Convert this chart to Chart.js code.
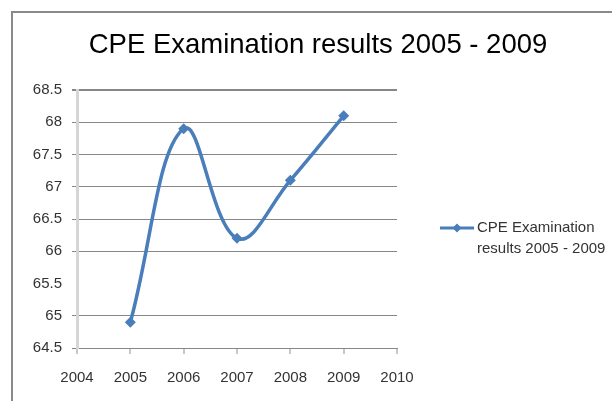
<!DOCTYPE html>
<html>
<head>
<meta charset="utf-8">
<script src="https://cdn.jsdelivr.net/npm/chart.js@4/dist/chart.umd.min.js"></script>
<style>
  html, body { margin: 0; padding: 0; background: #fff; overflow: hidden; width: 612px; height: 401px; }
  .wrap { position: relative; width: 612px; height: 401px; }
  .frame { position: absolute; left: 11px; top: 11px; width: 700px; height: 500px;
           border-top: 2px solid #8a8a8a; border-left: 2px solid #8a8a8a; }
  canvas { display: block; position: absolute; left: 0; top: 0; }
</style>
</head>
<body>
<div class="wrap">
  <canvas id="resultsChart" width="612" height="401"></canvas>
  <div class="frame"></div>
</div>
<script>
const years = [2005, 2006, 2007, 2008, 2009];
const results = [64.9, 67.9, 66.2, 67.1, 68.1];
const seriesName = 'CPE Examination results 2005 - 2009';
const legendLines = ['CPE Examination', 'results 2005 - 2009'];
const chartTitle = 'CPE Examination results 2005 - 2009';

const blue = '#4a7ebb';

// title and the two-line legend are drawn by hand
const extras = {
    id: 'extras',
    afterDraw(chart) {
        const ctx = chart.ctx;
        ctx.save();
        ctx.fillStyle = '#000';
        ctx.font = '27.5px "Liberation Sans", Arial, sans-serif';
        ctx.textAlign = 'center';
        ctx.textBaseline = 'middle';
        ctx.fillText(chartTitle, 318, 45);

        // legend
        const ly = 228;
        ctx.strokeStyle = blue;
        ctx.lineWidth = 3;
        ctx.beginPath();
        ctx.moveTo(440, ly);
        ctx.lineTo(474, ly);
        ctx.stroke();
        ctx.fillStyle = blue;
        ctx.beginPath();
        ctx.moveTo(457, ly - 4.5);
        ctx.lineTo(461.5, ly);
        ctx.lineTo(457, ly + 4.5);
        ctx.lineTo(452.5, ly);
        ctx.closePath();
        ctx.fill();

        ctx.fillStyle = '#333';
        ctx.font = '15px "Liberation Sans", Arial, sans-serif';
        ctx.textAlign = 'left';
        legendLines.forEach((t, i) => ctx.fillText(t, 477, ly + i * 21));
        ctx.restore();
    }
};

const ctx = document.getElementById('resultsChart').getContext('2d');

const chart = new Chart(ctx, {
    type: 'line',
    data: {
        datasets: [{
            label: seriesName,
            data: years.map((y, i) => ({ x: y, y: results[i] })),
            borderColor: blue,
            backgroundColor: blue,
            borderWidth: 3.5,
            tension: 0.4,
            pointStyle: 'rectRot',
            pointRadius: 5.5,
            pointBorderWidth: 0,
            fill: false
        }]
    },
    options: {
        responsive: false,
        animation: false,
        events: [],
        layout: { padding: { top: 90, right: 215, bottom: 0, left: 0 } },
        plugins: {
            legend: { display: false },
            title: { display: false },
            tooltip: { enabled: false }
        },
        scales: {
            x: {
                type: 'linear',
                min: 2004,
                max: 2010,
                ticks: {
                    stepSize: 1,
                    color: '#333',
                    font: { family: '"Liberation Sans", Arial', size: 15 },
                    padding: 15,
                    callback: v => String(v)
                },
                grid: {
                    drawOnChartArea: false,
                    color: '#c8c8c8',
                    lineWidth: 2,
                    tickLength: 6
                },
                border: { color: '#878787', width: 1 },
                afterFit: s => { s.height = 53; }
            },
            y: {
                min: 64.5,
                max: 68.5,
                ticks: {
                    stepSize: 0.5,
                    color: '#333',
                    font: { family: '"Liberation Sans", Arial', size: 15 },
                    padding: 10,
                    callback: v => String(v)
                },
                grid: {
                    color: c => (c.tick && c.tick.value === 65.5) ? 'rgba(0,0,0,0)' : '#878787',
                    lineWidth: c => (c.tick && c.tick.value === 68.5) ? 2 : 1,
                    tickLength: 5
                },
                border: { color: '#d6d6d6', width: 3 },
                afterFit: s => { s.width = 77; }
            }
        }
    },
    plugins: [extras]
});
</script>
</body>
</html>
